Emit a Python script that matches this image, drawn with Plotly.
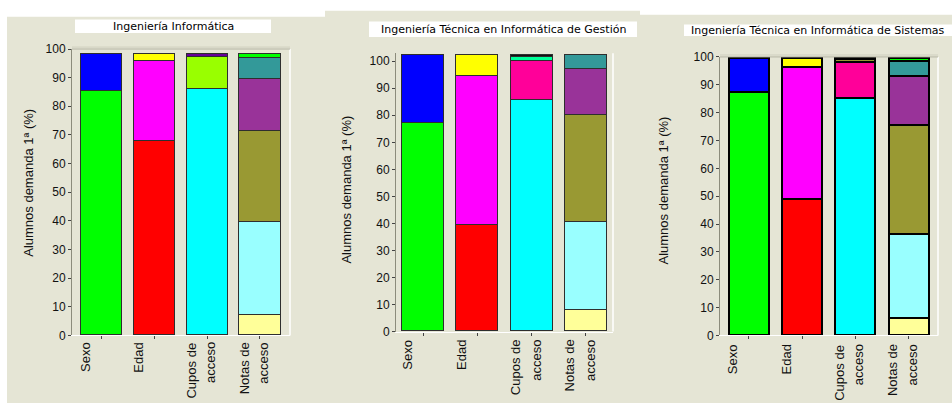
import plotly.graph_objects as go

W, H = 952, 410

# Category labels (one list entry per printed line)
categories = [["Sexo"], ["Edad"], ["Cupos de", "acceso"], ["Notas de", "acceso"]]

titles = [
    "Ingeniería Informática",
    "Ingeniería Técnica en Informática de Gestión",
    "Ingeniería Técnica en Informática de Sistemas",
]
y_title = "Alumnos demanda 1ª (%)"

# Segment sizes (%) of each stacked bar, bottom to top
inf_sexo = [85.2, 12.9]
inf_edad = [67.9, 27.8, 2.4]
inf_cupos = [86.0, 11.2, 0.9]
inf_notas = [7.2, 32.4, 31.8, 18.3, 7.3, 1.1]

ges_sexo = [77.1, 25.0]
ges_edad = [39.4, 55.1, 7.6]
ges_cupos = [85.7, 14.3, 1.5, 0.6]
ges_notas = [7.9, 32.6, 39.3, 17.0, 5.3]

sis_sexo = [87.3, 12.5]
sis_edad = [48.9, 47.5, 3.4]
sis_cupos = [85.1, 13.2, 1.0, 0.5]
sis_notas = [6.1, 30.2, 39.2, 17.7, 5.3, 1.3]

# Segment colours, bottom to top
col_sexo = ["#00FF00", "#0000FF"]
col_edad = ["#FF0000", "#FF00FF", "#FFFF00"]
col_cupos_inf = ["#00FFFF", "#99FF00", "#660099"]
col_cupos_ges = ["#00FFFF", "#FF0099", "#00FF99", "#111111"]
col_cupos_sis = ["#00FFFF", "#FF0099", "#999933", "#222200"]
col_notas = ["#FFFF99", "#99FFFF", "#999933", "#993399", "#339999", "#00FF00"]

panels = [
    {
        "values": [inf_sexo, inf_edad, inf_cupos, inf_notas],
        "colors": [col_sexo, col_edad, col_cupos_inf, col_notas],
        "px_left": 72, "px_right": 290, "px_bottom": 340, "px_top": 43.5,
        "xrange": [-0.56, 3.57], "yrange": [0, 100], "barwidth": 0.78,
        "edge": "#2e2e2e", "edgewidth": 1.5, "topline": True,
        "title_box": (75, 13, 271, 27), "ytitle_x": 29, "ytitle_y": 182,
        "label_gap": 5,
    },
    {
        "values": [ges_sexo, ges_edad, ges_cupos, ges_notas],
        "colors": [col_sexo, col_edad, col_cupos_ges, col_notas],
        "px_left": 396, "px_right": 613, "px_bottom": 336, "px_top": 48,
        "xrange": [-0.50, 3.50], "yrange": [0, 102.9], "barwidth": 0.77,
        "edge": "#2e2e2e", "edgewidth": 1.5, "topline": False,
        "title_box": (369, 15, 637, 31), "ytitle_x": 347, "ytitle_y": 189,
        "label_gap": 6,
    },
    {
        "values": [sis_sexo, sis_edad, sis_cupos, sis_notas],
        "colors": [col_sexo, col_edad, col_cupos_sis, col_notas],
        "px_left": 720, "px_right": 938, "px_bottom": 340, "px_top": 51.7,
        "xrange": [-0.54, 3.55], "yrange": [0, 100], "barwidth": 0.75,
        "edge": "#000000", "edgewidth": 2, "topline": True,
        "title_box": (684, 18, 952, 30), "ytitle_x": 664, "ytitle_y": 190,
        "label_gap": 7,
    },
]


def fx(p):
    return p / W


def fy(p):
    return 1 - p / H


BG = "#E5E5D5"
fig = go.Figure()
shapes = []
annotations = []

# beige canvas behind each chart, white margins around
for x0, y0, x1 in [(7, 10, 325), (325, 4, 640), (640, 8, 952)]:
    shapes.append(dict(type="rect", xref="paper", yref="paper", layer="below",
                       x0=fx(x0), x1=fx(x1), y0=0, y1=fy(y0),
                       fillcolor=BG, line=dict(width=0)))

for k, p in enumerate(panels):
    n = k + 1
    xa = "x" if n == 1 else f"x{n}"
    ya = "y" if n == 1 else f"y{n}"
    for ci, (segs, cols) in enumerate(zip(p["values"], p["colors"])):
        for v, c in zip(segs, cols):
            fig.add_trace(go.Bar(
                x=[ci], y=[v], width=[p["barwidth"]], xaxis=xa, yaxis=ya,
                marker=dict(color=c, line=dict(color=p["edge"], width=p["edgewidth"])),
                showlegend=False, hoverinfo="y",
            ))

    xkey = "xaxis" if n == 1 else f"xaxis{n}"
    ykey = "yaxis" if n == 1 else f"yaxis{n}"
    fig.update_layout({
        xkey: dict(domain=[fx(p["px_left"]), fx(p["px_right"])], range=p["xrange"],
                   anchor=ya, tickvals=[0, 1, 2, 3], showticklabels=False,
                   ticks="outside", ticklen=3, tickcolor="#444444",
                   showline=True, linecolor="#FFFFFF", linewidth=1,
                   showgrid=False, zeroline=False, fixedrange=True),
        ykey: dict(domain=[fy(p["px_bottom"]), fy(p["px_top"])], range=p["yrange"],
                   anchor=xa, tickvals=list(range(0, 101, 10)),
                   ticks="outside", ticklen=3, tickcolor="#444444",
                   tickfont=dict(family="Liberation Sans, Arial", size=12, color="#111111"),
                   showline=True, linecolor="#8C8C7C", linewidth=1,
                   showgrid=False, zeroline=False, fixedrange=True),
    })

    # right edge highlight
    shapes.append(dict(type="line", xref="paper", yref="paper",
                       x0=fx(p["px_right"]), x1=fx(p["px_right"]),
                       y0=fy(p["px_bottom"]), y1=fy(p["px_top"]),
                       line=dict(color="#FFFFFF", width=1.5)))
    if p["topline"]:
        shapes.append(dict(type="line", xref="paper", yref="paper",
                           x0=fx(p["px_left"]), x1=fx(p["px_right"]),
                           y0=fy(p["px_top"]), y1=fy(p["px_top"]),
                           line=dict(color="#B4B4A4", width=1)))
        shapes.append(dict(type="line", xref="paper", yref="paper",
                           x0=fx(p["px_left"]), x1=fx(p["px_right"]),
                           y0=fy(p["px_top"] - 2), y1=fy(p["px_top"] - 2),
                           line=dict(color="#CFCFBF", width=1)))

    # title box
    bx0, by0, bx1, by1 = p["title_box"]
    shapes.append(dict(type="rect", xref="paper", yref="paper",
                       x0=fx(bx0), x1=fx(bx1), y0=fy(by1), y1=fy(by0),
                       fillcolor="#FFFFFF", line=dict(width=0)))
    annotations.append(dict(text=titles[k], xref="paper", yref="paper",
                            x=fx((bx0 + bx1) / 2), y=fy((by0 + by1) / 2),
                            xanchor="center", yanchor="middle", showarrow=False,
                            font=dict(family="DejaVu Sans", size=11, color="#000000")))

    # y-axis title
    annotations.append(dict(text=y_title, xref="paper", yref="paper",
                            x=fx(p["ytitle_x"]), y=fy(p["ytitle_y"]),
                            xanchor="center", yanchor="middle", textangle=-90,
                            showarrow=False,
                            font=dict(family="Liberation Sans, Arial", size=13, color="#111111")))

    # rotated category labels
    for ci, lines in enumerate(categories):
        for li, line in enumerate(lines):
            annotations.append(dict(text=line, xref=xa, yref="paper",
                                    x=ci, xshift=-16 + 20 * li,
                                    y=fy(p["px_bottom"]), yshift=-p["label_gap"],
                                    xanchor="center", yanchor="top", textangle=-90,
                                    showarrow=False,
                                    font=dict(family="Liberation Sans, Arial", size=13,
                                              color="#111111")))

fig.update_layout(
    width=W, height=H, margin=dict(l=0, r=0, t=0, b=0),
    paper_bgcolor="#FFFFFF", plot_bgcolor="rgba(0,0,0,0)",
    barmode="stack", bargap=0, shapes=shapes, annotations=annotations,
)

fig.write_html("out.html")
